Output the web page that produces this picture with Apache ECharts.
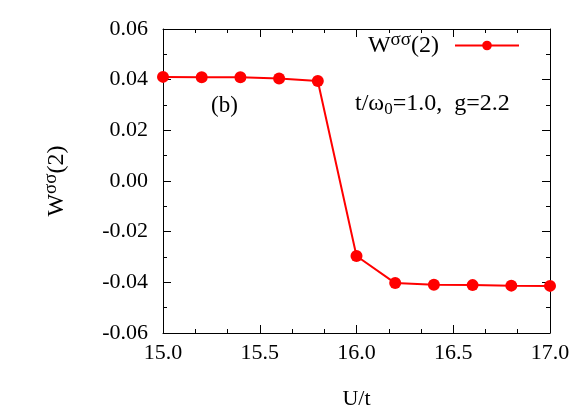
<!DOCTYPE html>
<html><head><meta charset="utf-8">
<script src="https://cdn.jsdelivr.net/npm/echarts@6/dist/echarts.min.js"></script>
<style>html,body{margin:0;padding:0;background:#fff}#c{width:586px;height:411px}</style>
</head><body><div id="c"></div>
<script>
const uValues = [15.0, 15.2, 15.4, 15.6, 15.8, 16.0, 16.2, 16.4, 16.6, 16.8, 17.0];
const wValues = [0.0411, 0.0410, 0.0410, 0.0405, 0.0395, -0.0296, -0.0403, -0.0410, -0.0411, -0.0413, -0.0414];
const xTicks = [15.0, 15.5, 16.0, 16.5, 17.0];
const yTicks = [-0.06, -0.04, -0.02, 0.00, 0.02, 0.04, 0.06];
const seriesName = 'W^σσ(2)';

const FONT = "Liberation Serif";
const chart = echarts.init(document.getElementById('c'), null, {renderer: 'canvas'});
const axisCommon = {
  axisLine: {show: true, onZero: false, lineStyle: {color: '#000', width: 1}},
  axisTick: {show: true, inside: true, length: 8, lineStyle: {color: '#000'}},
  minorTick: {show: true, length: 4, lineStyle: {color: '#000'}},
  splitLine: {show: false}
};
const rich = {
  n: {fontFamily: FONT, fontSize: 24, color: '#000'},
  np: {fontFamily: FONT, fontSize: 24, color: '#000', padding: [0, 11, 0, 0]},
  sup: {fontFamily: FONT, fontSize: 19, color: '#000', verticalAlign: 'bottom', padding: [0, 0, 10, 0]},
  a: {fontFamily: FONT, fontSize: 24, color: '#000'},
  sub: {fontFamily: FONT, fontSize: 17, color: '#000', verticalAlign: 'top', padding: [11, 0, 0, 0]}
};
chart.setOption({
  animation: false,
  textStyle: {fontFamily: FONT},
  grid: {left: 163, right: 36, top: 29, bottom: 78, containLabel: false, outerBoundsMode: 'none'},
  xAxis: [
    Object.assign({}, axisCommon, {
      type: 'value', min: 15, max: 17, interval: 0.5, position: 'bottom',
      minorTick: {show: true, splitNumber: 3, length: 4, lineStyle: {color: '#000'}},
      axisLabel: {margin: 9, color: '#000', fontFamily: FONT, fontSize: 22,
        formatter: v => xTicks.some(t => Math.abs(t - v) < 1e-9) ? v.toFixed(1) : ''},
      name: 'U/t', nameLocation: 'middle', nameGap: 55,
      nameTextStyle: {color: '#000', fontFamily: FONT, fontSize: 22}
    }),
    Object.assign({}, axisCommon, {
      type: 'value', min: 15, max: 17, interval: 0.5, position: 'top',
      minorTick: {show: true, splitNumber: 3, length: 4, lineStyle: {color: '#000'}},
      axisLabel: {show: false}
    })
  ],
  yAxis: [
    Object.assign({}, axisCommon, {
      type: 'value', min: -0.06, max: 0.06, interval: 0.02, position: 'left',
      minorTick: {show: true, splitNumber: 2, length: 4, lineStyle: {color: '#000'}},
      axisLabel: {margin: 15, color: '#000', fontFamily: FONT, fontSize: 22,
        formatter: v => { const t = yTicks.find(t => Math.abs(t - v) < 1e-9); return t === undefined ? '' : (Math.abs(t) < 1e-12 ? '0.00' : t.toFixed(2)); }},
      name: '{n|W}{sup|σσ}{n|(2)}', nameLocation: 'middle', nameGap: 92, nameRotate: 90,
      nameTextStyle: {rich: rich}
    }),
    Object.assign({}, axisCommon, {
      type: 'value', min: -0.06, max: 0.06, interval: 0.02, position: 'right',
      minorTick: {show: true, splitNumber: 2, length: 4, lineStyle: {color: '#000'}},
      axisLabel: {show: false}
    })
  ],
  legend: {
    show: true, right: 61, top: 26, align: 'right', itemWidth: 64, itemHeight: 12,
    data: [{name: seriesName}],
    formatter: () => '{n|W}{sup|σσ}{np|(2)}',
    textStyle: {rich: rich}, itemGap: 10
  },
  series: [{
    name: seriesName, type: 'line', xAxisIndex: 0, yAxisIndex: 0,
    data: uValues.map((u, i) => [u, wValues[i]]),
    symbol: 'circle', symbolSize: 12,
    lineStyle: {color: '#ff0000', width: 2},
    itemStyle: {color: '#ff0000'}
  }],
  graphic: [
    {type: 'text', left: 211, top: 94, style: {text: '(b)', fontFamily: FONT, fontSize: 23, fill: '#000'}},
    {type: 'text', left: 355, top: 92, style: {text: '{a|t/ω}{sub|0}{a|=1.0,  g=2.2}', rich: rich}}
  ]
});
</script></body></html>
